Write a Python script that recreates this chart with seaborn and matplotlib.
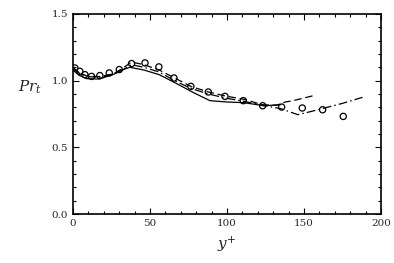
import matplotlib
matplotlib.use("Agg")
import matplotlib.pyplot as plt
import seaborn as sns
import pandas as pd
from matplotlib.ticker import MultipleLocator

# Data
x_solid = [0, 4, 9, 17, 26, 32, 37, 46, 56, 67, 78, 89, 100, 111, 124, 135]
y_solid = [1.08, 1.04, 1.015, 1.012, 1.045, 1.08, 1.10, 1.08, 1.045, 0.98, 0.912, 0.85, 0.84, 0.835, 0.812, 0.82]

x_dash = [0, 4, 9, 17, 26, 32, 38, 46, 56, 66, 77, 88, 99, 111, 123, 132, 138, 143, 150, 157]
y_dash = [1.10, 1.06, 1.035, 1.03, 1.05, 1.09, 1.14, 1.12, 1.08, 1.02, 0.955, 0.915, 0.885, 0.86, 0.82, 0.815, 0.84, 0.85, 0.87, 0.89]

x_dashdot = [0, 5, 10, 18, 27, 33, 38, 46, 56, 66, 77, 88, 99, 111, 123, 135, 146, 155, 165, 175, 188]
y_dashdot = [1.09, 1.05, 1.03, 1.025, 1.05, 1.085, 1.12, 1.10, 1.065, 1.00, 0.94, 0.90, 0.87, 0.845, 0.815, 0.79, 0.745, 0.77, 0.80, 0.83, 0.875]

x_circ = [1.3, 4.5, 7.8, 12.1, 17.5, 23.6, 30.1, 38.1, 46.8, 55.8, 65.6, 76.6, 87.9, 98.7, 110.6, 123.2, 135.5, 148.9, 162.1, 175.5]
y_circ = [1.095, 1.07, 1.045, 1.032, 1.038, 1.058, 1.083, 1.128, 1.133, 1.103, 1.02, 0.957, 0.915, 0.882, 0.85, 0.812, 0.802, 0.795, 0.782, 0.732]

x_ticks = [0, 50, 100, 150, 200]
y_ticks = [0.0, 0.5, 1.0, 1.5]
y_ticklabels = ["0.0", "0.5", "1.0", "1.5"]

sns.set_theme(style="ticks")
plt.rcParams['font.family'] = ['DejaVu Serif']
plt.rcParams['mathtext.fontset'] = 'dejavuserif'

fig = plt.figure(figsize=(3.94, 2.63), dpi=100)
ax = fig.add_axes([0.185, 0.186, 0.782, 0.761])

sns.lineplot(x=x_solid, y=y_solid, ax=ax, color="black", lw=0.9, sort=False)
sns.lineplot(x=x_dash, y=y_dash, ax=ax, color="black", lw=0.9, sort=False)
ax.lines[-1].set_dashes([6, 3])
sns.lineplot(x=x_dashdot, y=y_dashdot, ax=ax, color="black", lw=0.9, sort=False)
ax.lines[-1].set_dashes([7, 2.5, 1.2, 2.5])
sns.scatterplot(x=x_circ, y=y_circ, ax=ax, marker="o", s=20, facecolor="none",
                edgecolor="black", linewidth=0.9)

ax.set_xlim(0, 200)
ax.set_ylim(0, 1.5)
ax.set_xticks(x_ticks)
ax.set_yticks(y_ticks)
ax.set_yticklabels(y_ticklabels)
ax.xaxis.set_minor_locator(MultipleLocator(10))
ax.yaxis.set_minor_locator(MultipleLocator(0.1))
ax.tick_params(which="both", direction="in", top=True, right=True, labelsize=7.5, color="black", width=0.8)
ax.tick_params(which="major", length=4)
ax.tick_params(which="minor", length=2)
for s in ax.spines.values():
    s.set_linewidth(1.2)
    s.set_color("black")

ax.set_xlabel("$y^{+}$", fontsize=11, labelpad=5)
ax.set_ylabel("$Pr_t$", fontsize=11, rotation=0, va="center", ha="center")
ax.yaxis.set_label_coords(-0.14, 0.635)

fig.savefig("out.png", dpi=100)
